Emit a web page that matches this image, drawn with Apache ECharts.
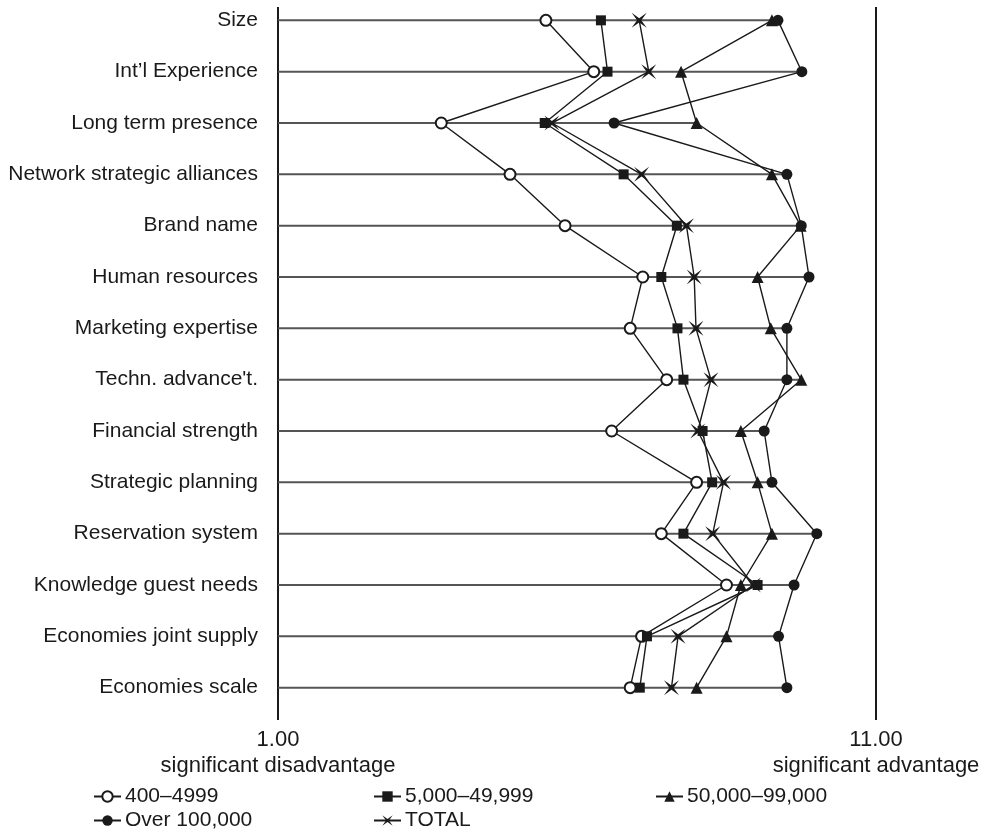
<!DOCTYPE html>
<html>
<head>
<meta charset="utf-8">
<script src="https://cdn.jsdelivr.net/npm/echarts@6/dist/echarts.min.js"></script>
<style>
  html, body { margin: 0; padding: 0; background: #fff; }
  #chart { width: 988px; height: 834px; }
</style>
</head>
<body>
<div id="chart"></div>
<script>
// Competitive factors, rated from 1 (significant disadvantage) to 11 (significant advantage)
const categories = [
  'Size', 'Int\u2019l Experience', 'Long term presence', 'Network strategic alliances',
  'Brand name', 'Human resources', 'Marketing expertise', 'Techn. advance\'t.',
  'Financial strength', 'Strategic planning', 'Reservation system',
  'Knowledge guest needs', 'Economies joint supply', 'Economies scale'
];

// Mean scores per size group, in category order
const small400 = [5.48, 6.28, 3.73, 4.88, 5.80, 7.10, 6.89, 7.50, 6.58, 8.00, 7.41, 8.50, 7.08, 6.89];
const mid5000 = [6.40, 6.51, 5.46, 6.78, 7.67, 7.41, 7.68, 7.78, 8.10, 8.26, 7.78, 9.02, 7.17, 7.05];
const large50000 = [9.26, 7.74, 8.00, 9.26, 9.74, 9.02, 9.24, 9.75, 8.74, 9.02, 9.26, 8.74, 8.50, 8.00];
const over100000 = [9.36, 9.76, 6.62, 9.51, 9.75, 9.88, 9.51, 9.51, 9.13, 9.26, 10.01, 9.63, 9.37, 9.51];
const total = [7.04, 7.20, 5.58, 7.08, 7.83, 7.96, 7.99, 8.24, 8.02, 8.45, 8.27, 8.95, 7.69, 7.58];

const scaleMin = 1;
const scaleMax = 11;
const xTickLabels = { 1: ['1.00', 'significant disadvantage'], 11: ['11.00', 'significant advantage'] };

const seriesNames = ['400\u20134999', '5,000\u201349,999', '50,000\u201399,000', 'Over 100,000', 'TOTAL'];

const FONT = '"Liberation Sans", Arial, Helvetica, sans-serif';
const INK = '#1a1a1a';

// Four-pointed concave star used for the TOTAL markers
const starPath = 'path://M0,0 L5,3.6 L10,0 L6.4,5 L10,10 L5,6.4 L0,10 L3.6,5 Z';

const toPoints = arr => arr.map((v, i) => [v, i]);
const rowMax = categories.map((_, i) =>
  [Math.max(small400[i], mid5000[i], large50000[i], over100000[i], total[i]), i]);

function lineSeries(name, values, symbol, size, z, extraItem) {
  return {
    name: name,
    type: 'line',
    data: toPoints(values),
    symbol: symbol,
    symbolSize: size,
    z: z,
    lineStyle: { color: INK, width: 1.4 },
    itemStyle: Object.assign({ color: INK }, extraItem || {}),
    emphasis: { disabled: true },
    animation: false
  };
}

// Legend laid out as a three-column grid
const legendSlots = [
  { left: 88, top: 781 },
  { left: 368, top: 781 },
  { left: 650, top: 781 },
  { left: 88, top: 805 },
  { left: 368, top: 805 }
];

const chart = echarts.init(document.getElementById('chart'), null, { renderer: 'canvas' });

chart.setOption({
  backgroundColor: '#fff',
  animation: false,
  textStyle: { fontFamily: FONT, color: INK },
  legend: seriesNames.map((n, i) => ({
    data: [n],
    left: legendSlots[i].left,
    top: legendSlots[i].top,
    itemWidth: 27,
    itemHeight: 13,
    itemGap: 4,
    textStyle: { fontFamily: FONT, fontSize: 21, color: INK, padding: [0, 0, 0, -1] },
    selectedMode: false
  })),
  grid: { left: 278, right: 112, top: 7, bottom: 114, containLabel: false },
  xAxis: {
    type: 'value',
    min: scaleMin,
    max: scaleMax,
    interval: 10,
    axisLine: { show: false },
    axisTick: { show: false },
    splitLine: { show: true, lineStyle: { color: INK, width: 2 } },
    axisLabel: {
      showMinLabel: true,
      showMaxLabel: true,
      margin: 7,
      fontFamily: FONT,
      fontSize: 22,
      lineHeight: 26,
      color: INK,
      formatter: v => (xTickLabels[v] || ['']).join('\n')
    }
  },
  yAxis: {
    type: 'value',
    inverse: true,
    min: -0.26,
    max: 13.63,
    axisLine: { show: false },
    axisTick: { show: false },
    splitLine: { show: false },
    axisLabel: {
      customValues: categories.map((_, i) => i),
      margin: 20,
      fontFamily: FONT,
      fontSize: 21,
      color: INK,
      formatter: v => categories[Math.round(v)] || ''
    }
  },
  series: [
    {
      type: 'custom',
      name: 'rows',
      data: rowMax,
      z: 1,
      silent: true,
      renderItem: (params, api) => {
        const start = api.coord([scaleMin, api.value(1)]);
        const end = api.coord([api.value(0), api.value(1)]);
        return {
          type: 'line',
          shape: { x1: start[0], y1: start[1], x2: end[0], y2: end[1] },
          style: { stroke: '#555', lineWidth: 2 }
        };
      }
    },
    lineSeries(seriesNames[4], total, starPath, 15, 2),
    lineSeries(seriesNames[0], small400, 'emptyCircle', 11, 3, { borderWidth: 2.4 }),
    lineSeries(seriesNames[1], mid5000, 'rect', 10, 3),
    lineSeries(seriesNames[2], large50000, 'triangle', 12, 3),
    lineSeries(seriesNames[3], over100000, 'circle', 11, 4)
  ]
});
</script>
</body>
</html>
